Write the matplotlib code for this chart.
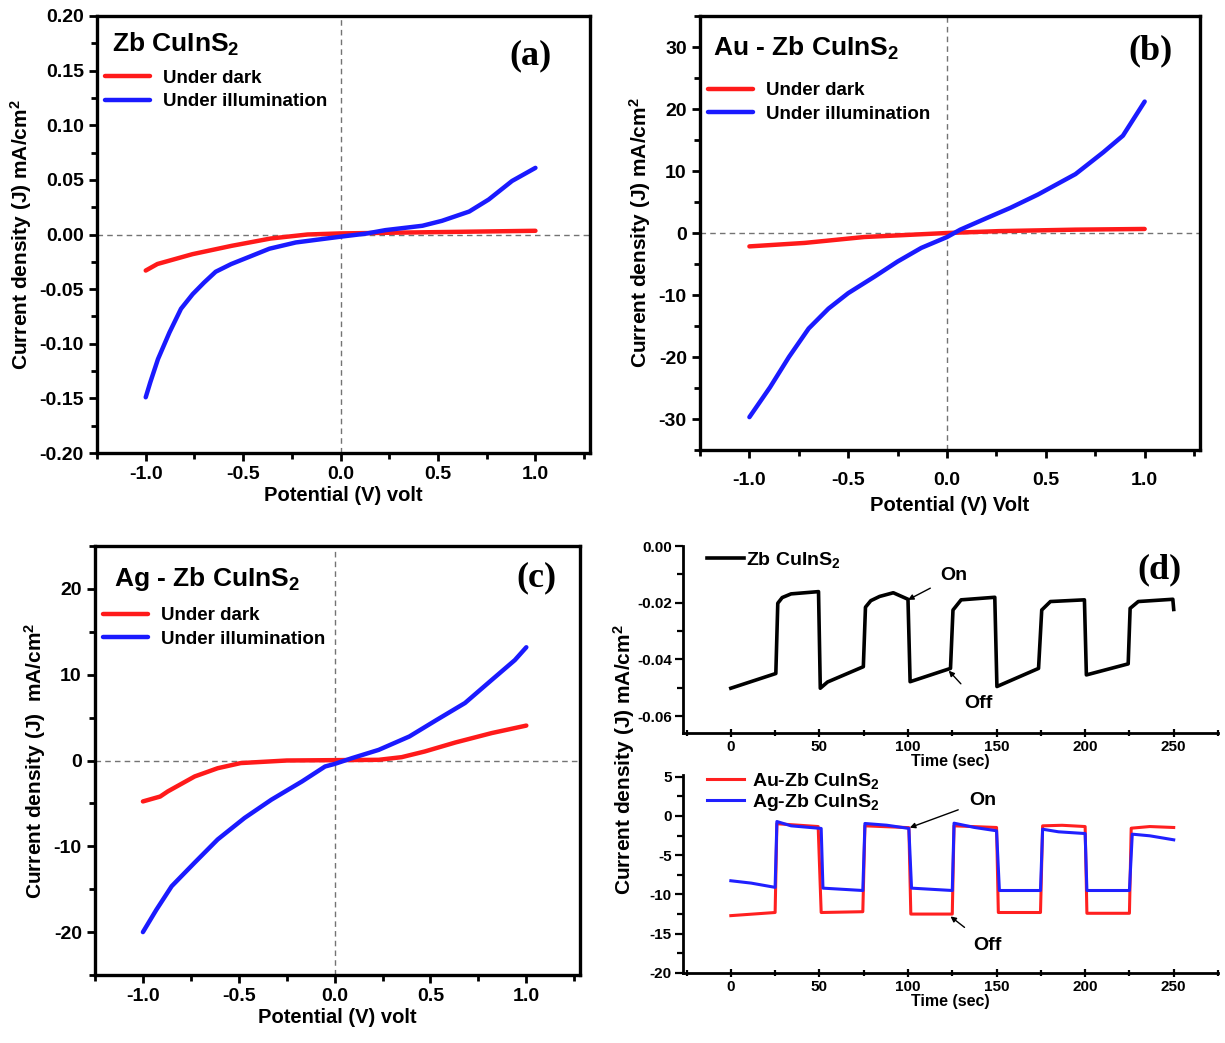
import numpy as np
import matplotlib.pyplot as plt
from matplotlib.ticker import MultipleLocator

plt.rcParams['font.family'] = ['Liberation Sans', 'DejaVu Sans']
plt.rcParams['font.weight'] = 'bold'
plt.rcParams['axes.labelweight'] = 'bold'
plt.rcParams['axes.unicode_minus'] = False
plt.rcParams['mathtext.default'] = 'regular'

# (a) Zb CuInS2
a_v_dark = [-1.0, -0.94, -0.76, -0.56, -0.36, -0.17, 0.0, 0.42, 1.0]
a_j_dark = [-0.033, -0.027, -0.018, -0.0104, -0.0037, 0.0, 0.001, 0.002, 0.0034]
a_v_ill = [-1.0, -0.976, -0.937, -0.878, -0.819, -0.759, -0.70, -0.641, -0.562, -0.464,
           -0.365, -0.23, 0.0, 0.13, 0.23, 0.42, 0.52, 0.66, 0.76, 0.88, 1.0]
a_j_ill = [-0.149, -0.135, -0.114, -0.0896, -0.068, -0.0546, -0.0439, -0.0341, -0.0271,
           -0.0201, -0.013, -0.0073, -0.002, 0.0008, 0.004, 0.008, 0.0125, 0.021, 0.032,
           0.049, 0.061]

# (b) Au - Zb CuInS2
b_v_dark = [-1.0, -0.72, -0.42, 0.0, 0.26, 0.65, 1.0]
b_j_dark = [-2.16, -1.6, -0.65, 0.0, 0.3, 0.54, 0.65]
b_v_ill = [-1.0, -0.896, -0.8, -0.7, -0.6, -0.5, -0.365, -0.25, -0.13, 0.0, 0.067, 0.2,
           0.32, 0.46, 0.65, 0.79, 0.89, 1.0]
b_j_ill = [-29.7, -24.9, -20.0, -15.4, -12.2, -9.7, -7.0, -4.6, -2.4, -0.65, 0.54, 2.4,
           4.05, 6.2, 9.5, 13.0, 15.7, 21.2]

# (c) Ag - Zb CuInS2
c_v_dark = [-1.0, -0.91, -0.87, -0.73, -0.61, -0.49, -0.25, 0.23, 0.35, 0.47, 0.63, 0.82, 1.0]
c_j_dark = [-4.77, -4.2, -3.6, -1.86, -0.9, -0.3, 0.0, 0.08, 0.39, 1.05, 2.1, 3.2, 4.07]
c_v_ill = [-1.0, -0.93, -0.85, -0.73, -0.61, -0.47, -0.33, -0.17, -0.05, 0.0, 0.09, 0.23,
           0.39, 0.53, 0.68, 0.82, 0.94, 1.0]
c_j_ill = [-20.0, -17.4, -14.65, -11.9, -9.2, -6.7, -4.57, -2.44, -0.7, -0.4, 0.27, 1.24,
           2.8, 4.7, 6.7, 9.4, 11.7, 13.2]

# (d) photocurrent on/off response
d_t_zb = [0, 25.4, 26.5, 29, 34, 49.5, 50.5, 54.6, 74.8, 76, 79, 84, 91.7, 100, 101.2, 124,
          125.4, 130, 149, 150.2, 173.7, 175.5, 180.4, 199.6, 200.7, 224.3, 225.4, 230,
          249.5, 250]
d_j_zb = [-0.0502, -0.045, -0.0202, -0.0182, -0.0169, -0.0161, -0.0502, -0.048, -0.0426,
          -0.0216, -0.0193, -0.0178, -0.0165, -0.0188, -0.0479, -0.0432, -0.0226, -0.019,
          -0.0181, -0.0496, -0.0432, -0.0226, -0.0196, -0.019, -0.0455, -0.0416, -0.022,
          -0.0196, -0.0188, -0.0224]

d_t_au = [0, 25, 26, 49.3, 51, 74.5, 75.7, 100.5, 101.6, 125, 126, 150, 151, 174.8, 176,
          187, 200, 201, 225, 226, 236.5, 250]
d_j_au = [-12.7, -12.3, -1.0, -1.36, -12.3, -12.2, -1.27, -1.5, -12.5, -12.5, -1.27, -1.48,
          -12.3, -12.3, -1.27, -1.2, -1.36, -12.4, -12.4, -1.57, -1.36, -1.48]

d_t_ag = [0, 11.5, 25, 26, 34, 51, 52, 74.5, 75.7, 88, 100.5, 102, 125, 126, 137.6, 150,
          151.6, 174.8, 176, 185, 200, 201, 225, 226.6, 236.5, 250]
d_j_ag = [-8.26, -8.56, -9.1, -0.72, -1.27, -1.6, -9.2, -9.5, -0.97, -1.19, -1.6, -9.2,
          -9.5, -0.93, -1.48, -1.9, -9.5, -9.5, -1.7, -2.03, -2.25, -9.5, -9.5, -2.33,
          -2.54, -3.05]

W, H = 1225, 1043
fig = plt.figure(figsize=(W / 100, H / 100), dpi=100)


def box(l, t, r, b):
    return [l / W, (H - b) / H, (r - l) / W, (b - t) / H]


def iv_panel(rect, vd, jd, vi, ji, ylim, ymaj, title, tag, xlabel, ylabel,
             title_pos, leg_y, tag_pos, xpad=3.5, xlabpad=2):
    ax = fig.add_axes(rect)
    ax.axhline(0, color='0.45', lw=1.0, ls=(0, (4, 3)), zorder=1)
    ax.axvline(0, color='0.45', lw=1.0, ls=(0, (4, 3)), zorder=1)
    ax.plot(vd, jd, color='#ff1a1a', lw=3.2, label='Under dark', solid_capstyle='round')
    ax.plot(vi, ji, color='#1a1aff', lw=3.2, label='Under illumination', solid_capstyle='round')
    ax.set_xlim(-1.25, 1.28)
    ax.set_ylim(*ylim)
    ax.xaxis.set_major_locator(MultipleLocator(0.5))
    ax.xaxis.set_minor_locator(MultipleLocator(0.25))
    ax.yaxis.set_major_locator(MultipleLocator(ymaj))
    ax.yaxis.set_minor_locator(MultipleLocator(ymaj / 2))
    ax.xaxis.set_major_formatter(plt.FuncFormatter(lambda x, p: f'{x:.1f}'))
    for s in ax.spines.values():
        s.set_linewidth(2.4)
    ax.tick_params(which='both', direction='out', width=2, top=False, right=False,
                   labelsize=14)
    ax.tick_params(which='major', length=6)
    ax.tick_params(which='minor', length=4)
    ax.tick_params(axis='x', pad=xpad)
    ax.set_xlabel(xlabel, fontsize=14.5, labelpad=xlabpad)
    ax.set_ylabel(ylabel, fontsize=15, labelpad=4)
    ax.text(title_pos[0], title_pos[1], title, transform=ax.transAxes, fontsize=19,
            ha='left', va='center')
    ax.legend(loc='upper left', bbox_to_anchor=(0.0, leg_y), frameon=False,
              fontsize=13.5, handlelength=2.4, handletextpad=0.7, labelspacing=0.35,
              borderaxespad=0)
    ax.text(tag_pos[0], tag_pos[1], tag, transform=ax.transAxes, fontsize=26,
            family=['Liberation Serif', 'DejaVu Serif'], fontweight='bold',
            ha='center', va='center')
    return ax


ax_a = iv_panel(box(97, 16, 590, 453), a_v_dark, a_j_dark, a_v_ill, a_j_ill, (-0.2, 0.2),
                0.05, 'Zb CuInS$_2$', '(a)', 'Potential (V) volt',
                'Current density (J) mA/cm$^2$', (0.03, 0.935), 0.895, (0.88, 0.91))
ax_a.yaxis.set_major_formatter(plt.FuncFormatter(lambda y, p: f'{y:.2f}'))

iv_panel(box(700, 16, 1200, 450), b_v_dark, b_j_dark, b_v_ill, b_j_ill, (-35, 35), 10,
         'Au - Zb CuInS$_2$', '(b)', 'Potential (V) Volt', 'Current density (J) mA/cm$^2$',
         (0.026, 0.925), 0.865, (0.9, 0.92), xpad=10, xlabpad=5)

iv_panel(box(95, 546, 580, 975), c_v_dark, c_j_dark, c_v_ill, c_j_ill, (-25, 25), 10,
         'Ag - Zb CuInS$_2$', '(c)', 'Potential (V) volt', 'Current density (J)  mA/cm$^2$',
         (0.04, 0.923), 0.875, (0.91, 0.926))


def d_axis(ax):
    ax.spines['top'].set_visible(False)
    ax.spines['right'].set_visible(False)
    for s in ('left', 'bottom'):
        ax.spines[s].set_linewidth(2.0)
    ax.set_xlim(-27, 275)
    ax.xaxis.set_major_locator(MultipleLocator(50))
    ax.xaxis.set_minor_locator(MultipleLocator(25))
    ax.tick_params(which='both', width=1.6, labelsize=11, pad=2)
    ax.tick_params(axis='x', which='both', direction='inout')
    ax.tick_params(axis='y', which='both', direction='out')
    ax.tick_params(which='major', length=6)
    ax.tick_params(which='minor', length=4)
    ax.set_xlabel('Time (sec)', fontsize=11.5, labelpad=0)


ax_d1 = fig.add_axes(box(683, 546, 1218, 733))
ax_d1.plot(d_t_zb, d_j_zb, color='black', lw=2.6, label='Zb CuInS$_2$')
ax_d1.set_ylim(-0.066, 0.0)
ax_d1.yaxis.set_major_locator(MultipleLocator(0.02))
ax_d1.yaxis.set_minor_locator(MultipleLocator(0.01))
ax_d1.yaxis.set_major_formatter(plt.FuncFormatter(lambda y, p: f'{y:.2f}'))
d_axis(ax_d1)
ax_d1.legend(loc='upper left', bbox_to_anchor=(0.03, 1.02), frameon=False, fontsize=14,
             handlelength=1.9, handletextpad=0.1, borderaxespad=0)
ax_d1.annotate('On', xy=(100, -0.019), xytext=(126, -0.0105), fontsize=14,
               ha='center', va='center',
               arrowprops=dict(arrowstyle='-|>', color='black', lw=1, mutation_scale=8,
                               shrinkA=6, shrinkB=0))
ax_d1.annotate('Off', xy=(123, -0.044), xytext=(140, -0.0555), fontsize=14,
               ha='center', va='center',
               arrowprops=dict(arrowstyle='-|>', color='black', lw=1, mutation_scale=8,
                               shrinkA=8, shrinkB=0))
ax_d1.text(0.89, 0.87, '(d)', transform=ax_d1.transAxes, fontsize=26,
           family=['Liberation Serif', 'DejaVu Serif'], fontweight='bold',
           ha='center', va='center')

ax_d2 = fig.add_axes(box(683, 775, 1218, 973))
ax_d2.plot(d_t_au, d_j_au, color='#ff2020', lw=2.2, label='Au-Zb CuInS$_2$')
ax_d2.plot(d_t_ag, d_j_ag, color='#2020ff', lw=2.2, label='Ag-Zb CuInS$_2$')
ax_d2.set_ylim(-20, 5.2)
ax_d2.yaxis.set_major_locator(MultipleLocator(5))
ax_d2.yaxis.set_minor_locator(MultipleLocator(2.5))
d_axis(ax_d2)
ax_d2.legend(loc='upper left', bbox_to_anchor=(0.03, 1.06), frameon=False, fontsize=14,
             handlelength=1.9, handletextpad=0.4, labelspacing=0.05, borderaxespad=0)
ax_d2.annotate('On', xy=(101, -1.5), xytext=(142, 1.9), fontsize=14,
               ha='center', va='center',
               arrowprops=dict(arrowstyle='-|>', color='black', lw=1, mutation_scale=8,
                               shrinkA=6, shrinkB=0))
ax_d2.annotate('Off', xy=(124, -12.8), xytext=(145, -16.5), fontsize=14,
               ha='center', va='center',
               arrowprops=dict(arrowstyle='-|>', color='black', lw=1, mutation_scale=8,
                               shrinkA=8, shrinkB=0))

fig.text(624 / W, 1 - 760 / H, 'Current density (J) mA/cm$^2$', rotation=90,
         fontsize=15, ha='center', va='center')

fig.savefig('out.png', dpi=100)
